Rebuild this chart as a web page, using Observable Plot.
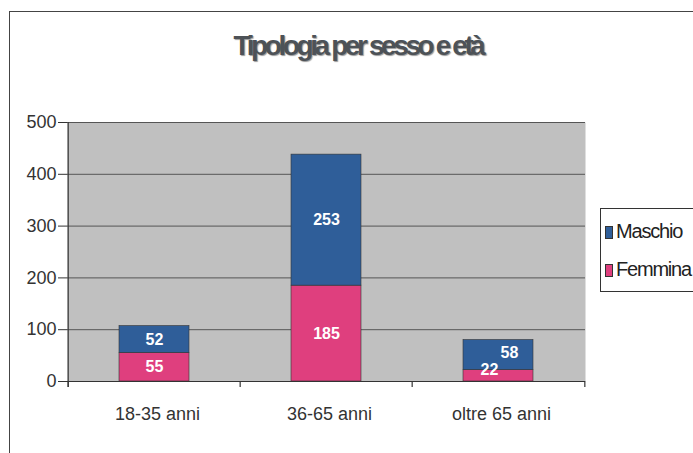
<!DOCTYPE html>
<html><head><meta charset="utf-8">
<script src="https://cdn.jsdelivr.net/npm/d3@7"></script>
<script src="https://cdn.jsdelivr.net/npm/@observablehq/plot@0.6"></script>
<style>
body{margin:0;background:#fff;}
#wrap{position:relative;width:693px;height:453px;overflow:hidden;font-family:"Liberation Sans",Arial,sans-serif;}
#wrap svg{position:absolute;left:0;top:0;}
.fl{position:absolute;background:#444;}
#title{position:absolute;left:0;width:716px;top:32px;line-height:28px;text-align:center;font-size:28px;font-weight:bold;color:#4d5257;letter-spacing:-3.4px;text-shadow:1px 1px 1px #999;}
#legend{position:absolute;left:600px;top:208px;width:120px;height:82px;border:1px solid #333;background:#fff;}
.li{position:absolute;left:4px;font-size:20px;color:#222;letter-spacing:-1.2px;white-space:nowrap;}
.sw{display:inline-block;width:6px;height:11px;margin-right:3px;border:0.5px solid #333;vertical-align:-1px;}
</style></head><body><div id="wrap"></div>
<script>
const categories = ["18-35 anni", "36-65 anni", "oltre 65 anni"];
const series = ["Maschio", "Femmina"];
const maschio = [52, 253, 58];
const femmina = [55, 185, 22];
const yTicks = [0, 100, 200, 300, 400, 500];
const colors = ["#2f5e99", "#df3f7e"];
const titleText = "Tipologia per sesso e età";

const rows = [];
categories.forEach((c, i) => {
  rows.push({cat: c, sex: "Femmina", value: femmina[i], y1: 0, y2: femmina[i]});
  rows.push({cat: c, sex: "Maschio", value: maschio[i], y1: femmina[i], y2: femmina[i] + maschio[i]});
});

const W = 693, H = 453, mL = 67, mR = 108, mT = 122, mB = 72;
const half = (W - mL - mR) / categories.length / 2;
const font = '"Liberation Sans",Arial,sans-serif';
const mid = d => (d.y1 + d.y2) / 2;
const last = categories[categories.length - 1];

const plot = Plot.plot({
  width: W, height: H,
  marginLeft: mL, marginRight: mR, marginTop: mT, marginBottom: mB,
  style: {fontFamily: font, background: "transparent", overflow: "visible"},
  x: {domain: categories, paddingInner: 0.595, paddingOuter: 0.2975, axis: null},
  y: {domain: [0, 500], axis: null},
  color: {domain: series, range: colors},
  marks: [
    Plot.frame({fill: "#c0c0c0", stroke: null}),
    Plot.gridY(yTicks, {stroke: "#555", strokeOpacity: 1, strokeWidth: 1}),
    Plot.barY(rows, {x: "cat", y1: "y1", y2: "y2", fill: "sex", stroke: "#333", strokeWidth: 0.6}),
    Plot.ruleY([0], {stroke: "#333", strokeWidth: 1.2}),
    Plot.ruleX([categories[0]], {x: d => d, y1: -11.5, y2: 500, dx: -half, stroke: "#333", strokeWidth: 1.2}),
    Plot.ruleX(categories, {x: d => d, y1: -11.5, y2: 0, dx: -half, stroke: "#333", strokeWidth: 1.2}),
    Plot.ruleX([last], {x: d => d, y1: -11.5, y2: 0, dx: half, stroke: "#333", strokeWidth: 1.2}),
    Plot.axisY(yTicks, {tickSize: 9, tickPadding: 2, fontSize: 18, stroke: "#333", fill: "#333", style: "letter-spacing:-1.2px"}),
    Plot.text(categories, {x: d => d, y: 0, dy: 33, dx: 3, text: d => d, fontSize: 18, fill: "#333", style: "letter-spacing:-1.3px"}),
    Plot.text(rows, {filter: d => d.cat !== last, x: "cat", y: mid, text: d => String(d.value), fill: "white", fontSize: 16, fontWeight: "bold", style: "letter-spacing:-1.2px"}),
    Plot.text(rows, {filter: d => d.cat === last && d.sex === "Maschio", x: "cat", y: mid, dx: 11, dy: -2, text: d => String(d.value), fill: "white", fontSize: 16, fontWeight: "bold", style: "letter-spacing:-1.2px"}),
    Plot.text(rows, {filter: d => d.cat === last && d.sex === "Femmina", x: "cat", y: mid, dx: -9, dy: -6, text: d => String(d.value), fill: "white", fontSize: 16, fontWeight: "bold", style: "letter-spacing:-1.2px"})
  ]
});

const wrap = document.getElementById("wrap");
const topLine = document.createElement("div"); topLine.className = "fl";
topLine.style.cssText = "left:9px;top:11px;width:700px;height:1px;";
const leftLine = document.createElement("div"); leftLine.className = "fl";
leftLine.style.cssText = "left:9px;top:11px;width:1px;height:460px;";
wrap.appendChild(topLine); wrap.appendChild(leftLine);
wrap.appendChild(plot);

const t = document.createElement("div"); t.id = "title"; t.textContent = titleText;
wrap.appendChild(t);

const lg = document.createElement("div"); lg.id = "legend";
series.forEach((s, i) => {
  const it = document.createElement("div"); it.className = "li";
  it.style.top = (i === 0 ? 11 : 49) + "px";
  const sw = document.createElement("span"); sw.className = "sw"; sw.style.background = colors[i];
  it.appendChild(sw); it.appendChild(document.createTextNode(s));
  lg.appendChild(it);
});
wrap.appendChild(lg);
</script></body></html>
